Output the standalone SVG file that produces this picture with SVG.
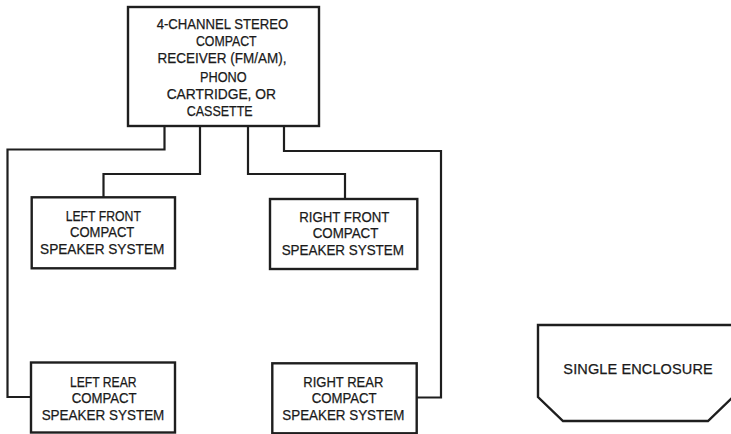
<svg xmlns="http://www.w3.org/2000/svg" width="731" height="434" viewBox="0 0 731 434">
  <style>
    .box { fill: #ffffff; stroke: #1e1e1e; stroke-width: 2.4; }
    .wire { fill: none; stroke: #1e1e1e; stroke-width: 2.2; stroke-linejoin: miter; }
    .t { font-family: "Liberation Sans", Arial, sans-serif; font-size: 14.5px; fill: #1a1a1a; stroke: #1a1a1a; stroke-width: 0.25; text-anchor: middle; }
  </style>
  <rect width="731" height="434" fill="#ffffff"/>

  <g id="connectors">
    <polyline class="wire" points="164.5,126 164.5,149.5 7.5,149.5 7.5,397 31,397"/>
    <polyline class="wire" points="200,126 200,174 103.5,174 103.5,197"/>
    <polyline class="wire" points="248,126 248,174 345,174 345,199"/>
    <polyline class="wire" points="284,126 284,151 441,151 441,397.5 417,397.5"/>
  </g>

  <g id="receiver">
    <rect class="box" x="128" y="7" width="191" height="119"/>
    <text class="t" x="222.5" y="29.3" textLength="131.6" lengthAdjust="spacingAndGlyphs">4-CHANNEL STEREO</text>
    <text class="t" x="226.3" y="45.7" textLength="60.7" lengthAdjust="spacingAndGlyphs">COMPACT</text>
    <text class="t" x="222" y="63" textLength="129" lengthAdjust="spacingAndGlyphs">RECEIVER (FM/AM),</text>
    <text class="t" x="223.3" y="81.7" textLength="46.7" lengthAdjust="spacingAndGlyphs">PHONO</text>
    <text class="t" x="221.3" y="99.3" textLength="109.3" lengthAdjust="spacingAndGlyphs">CARTRIDGE, OR</text>
    <text class="t" x="219.7" y="116" textLength="66" lengthAdjust="spacingAndGlyphs">CASSETTE</text>
  </g>

  <g id="left-front">
    <rect class="box" x="31.7" y="197.3" width="143.3" height="71"/>
    <text class="t" x="103.3" y="220.5" textLength="75.3" lengthAdjust="spacingAndGlyphs">LEFT FRONT</text>
    <text class="t" x="102.2" y="237.2" textLength="64.3" lengthAdjust="spacingAndGlyphs">COMPACT</text>
    <text class="t" x="102.2" y="253.8" textLength="124.3" lengthAdjust="spacingAndGlyphs">SPEAKER SYSTEM</text>
  </g>

  <g id="right-front">
    <rect class="box" x="270" y="199" width="147.3" height="70"/>
    <text class="t" x="344.3" y="221.7" textLength="90" lengthAdjust="spacingAndGlyphs">RIGHT FRONT</text>
    <text class="t" x="345.5" y="238.3" textLength="65.7" lengthAdjust="spacingAndGlyphs">COMPACT</text>
    <text class="t" x="342.8" y="255" textLength="122.3" lengthAdjust="spacingAndGlyphs">SPEAKER SYSTEM</text>
  </g>

  <g id="left-rear">
    <rect class="box" x="31" y="362.5" width="144" height="70"/>
    <text class="t" x="103.3" y="386.7" textLength="66.7" lengthAdjust="spacingAndGlyphs">LEFT REAR</text>
    <text class="t" x="104.2" y="403" textLength="65" lengthAdjust="spacingAndGlyphs">COMPACT</text>
    <text class="t" x="103" y="419.5" textLength="122.7" lengthAdjust="spacingAndGlyphs">SPEAKER SYSTEM</text>
  </g>

  <g id="right-rear">
    <rect class="box" x="272.3" y="363.3" width="144.4" height="70"/>
    <text class="t" x="343.3" y="386.7" textLength="80" lengthAdjust="spacingAndGlyphs">RIGHT REAR</text>
    <text class="t" x="344.2" y="403" textLength="65" lengthAdjust="spacingAndGlyphs">COMPACT</text>
    <text class="t" x="343.3" y="419.5" textLength="122" lengthAdjust="spacingAndGlyphs">SPEAKER SYSTEM</text>
  </g>

  <g id="single-enclosure">
    <polygon class="box" points="538,325 733,325 733,397 708,421 563,421 538,397"/>
    <text class="t" x="638" y="374" textLength="149.3" lengthAdjust="spacing">SINGLE ENCLOSURE</text>
  </g>
</svg>
